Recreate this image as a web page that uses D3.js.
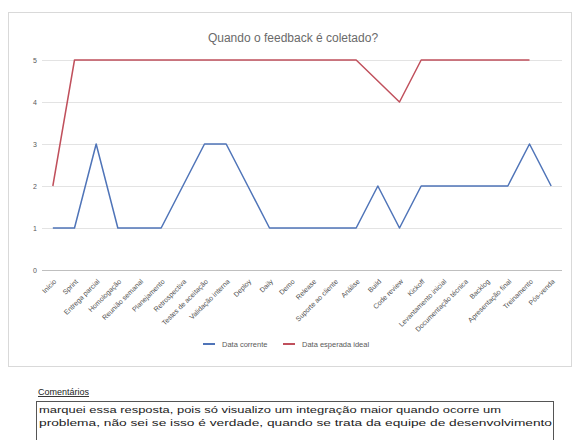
<!DOCTYPE html>
<html lang="pt-BR">
<head>
<meta charset="utf-8">
<script src="https://cdn.jsdelivr.net/npm/d3@7/dist/d3.min.js"></script>
<style>
  html, body { margin: 0; padding: 0; background: #fff; }
  svg { display: block; font-family: "Liberation Sans", Arial, sans-serif; }
</style>
</head>
<body>
<svg id="chart" width="575" height="440"></svg>
<script>
// Categorias do eixo X (etapas em que o feedback é coletado)
const categories = [
  "Início", "Sprint", "Entrega parcial", "Homologação", "Reunião semanal",
  "Planejamento", "Retrospectiva", "Testes de aceitação", "Validação interna",
  "Deploy", "Daily", "Demo", "Release", "Suporte ao cliente", "Análise",
  "Build", "Code review", "Kickoff", "Levantamento inicial",
  "Documentação técnica", "Backlog", "Apresentação final", "Treinamento",
  "Pós-venda"
];

// Séries
const seriesNames = ["Data corrente", "Data esperada ideal"];
const seriesCurrent = [1, 1, 3, 1, 1, 1, 2, 3, 3, 2, 1, 1, 1, 1, 1, 2, 1, 2, 2, 2, 2, 2, 3, 2];
const seriesIdeal   = [2, 5, 5, 5, 5, 5, 5, 5, 5, 5, 5, 5, 5, 5, 5, 4.5, 4, 5, 5, 5, 5, 5, 5, null];

// Eixo Y
const yTicks = [0, 1, 2, 3, 4, 5];

const title = "Quando o feedback é coletado?";
const commentsTitle = "Comentários";
const commentLines = [
  "marquei essa resposta, pois só visualizo um integração maior quando ocorre um",
  "problema, não sei se isso é verdade, quando se trata da equipe de desenvolvimento"
];

const colors = ["#4f74b8", "#c0505c"];

const svg = d3.select("#chart");

// Moldura do gráfico
svg.append("rect")
  .attr("x", 8.5).attr("y", 12.5)
  .attr("width", 563).attr("height", 354)
  .attr("fill", "#fff").attr("stroke", "#d9d9d9");

const plot = { left: 42, right: 562, top: 60, bottom: 270 };

const x = d3.scaleBand()
  .domain(categories)
  .range([plot.left, plot.right])
  .padding(0);

const y = d3.scaleLinear()
  .domain([0, 5])
  .range([plot.bottom, plot.top]);

// Título
svg.append("text")
  .attr("x", 293).attr("y", 42)
  .attr("text-anchor", "middle")
  .attr("font-size", 12)
  .attr("fill", "#6a6a6a")
  .text(title);

// Linhas de grade e rótulos do eixo Y
const yAxis = d3.axisLeft(y)
  .tickValues(yTicks)
  .tickFormat(d3.format("d"))
  .tickSize(-(plot.right - plot.left))
  .tickPadding(5);
const gy = svg.append("g")
  .attr("transform", `translate(${plot.left},0)`)
  .call(yAxis);
gy.select(".domain").remove();
gy.selectAll(".tick line")
  .attr("stroke", d => d === 0 ? "#bfbfbf" : "#e3e3e3")
  .attr("stroke-width", d => d === 0 ? 1.2 : 1);
gy.selectAll(".tick text")
  .attr("font-size", 7)
  .attr("fill", "#595959")
  .attr("font-family", "Liberation Sans, Arial, sans-serif");

// Rótulos do eixo X
const xAxis = d3.axisBottom(x).tickSize(0).tickPadding(0);
const gx = svg.append("g")
  .attr("transform", `translate(0,${plot.bottom})`)
  .call(xAxis);
gx.select(".domain").remove();
gx.selectAll(".tick text")
  .attr("font-size", 7)
  .attr("fill", "#505050")
  .attr("font-family", "Liberation Sans, Arial, sans-serif")
  .attr("text-anchor", "end")
  .attr("dy", null)
  .attr("y", 0)
  .attr("transform", "translate(4,12) rotate(-45)");

// Linhas das séries
const line = d3.line()
  .defined(d => d != null)
  .x((d, i) => x(categories[i]) + x.bandwidth() / 2)
  .y(d => y(d));

[seriesCurrent, seriesIdeal].forEach((s, k) => {
  svg.append("path")
    .datum(s)
    .attr("fill", "none")
    .attr("stroke", colors[k])
    .attr("stroke-width", 1.5)
    .attr("stroke-linejoin", "round")
    .attr("d", line);
});

// Legenda
const legend = svg.append("g").attr("transform", "translate(0,344)");
const legendItems = [
  { name: seriesNames[0], color: colors[0], x: 203 },
  { name: seriesNames[1], color: colors[1], x: 283 }
];
legendItems.forEach(it => {
  legend.append("line")
    .attr("x1", it.x).attr("x2", it.x + 12)
    .attr("y1", 0).attr("y2", 0)
    .attr("stroke", it.color).attr("stroke-width", 2);
  legend.append("text")
    .attr("x", it.x + 19).attr("y", 2.5)
    .attr("font-size", 7.5)
    .attr("fill", "#595959")
    .text(it.name);
});

// Comentários
svg.append("text")
  .attr("x", 38).attr("y", 395)
  .attr("font-size", 9)
  .attr("fill", "#222")
  .attr("text-decoration", "underline")
  .text(commentsTitle);

svg.append("rect")
  .attr("x", 36.5).attr("y", 401.5)
  .attr("width", 517).attr("height", 50)
  .attr("fill", "#fff")
  .attr("stroke", "#555");

const commentWidths = [462, 513];
commentLines.forEach((t, i) => {
  svg.append("text")
    .attr("x", 39).attr("y", 413 + i * 13)
    .attr("font-size", 9.5)
    .attr("fill", "#222")
    .attr("textLength", commentWidths[i])
    .attr("lengthAdjust", "spacingAndGlyphs")
    .text(t);
});
</script>
</body>
</html>
